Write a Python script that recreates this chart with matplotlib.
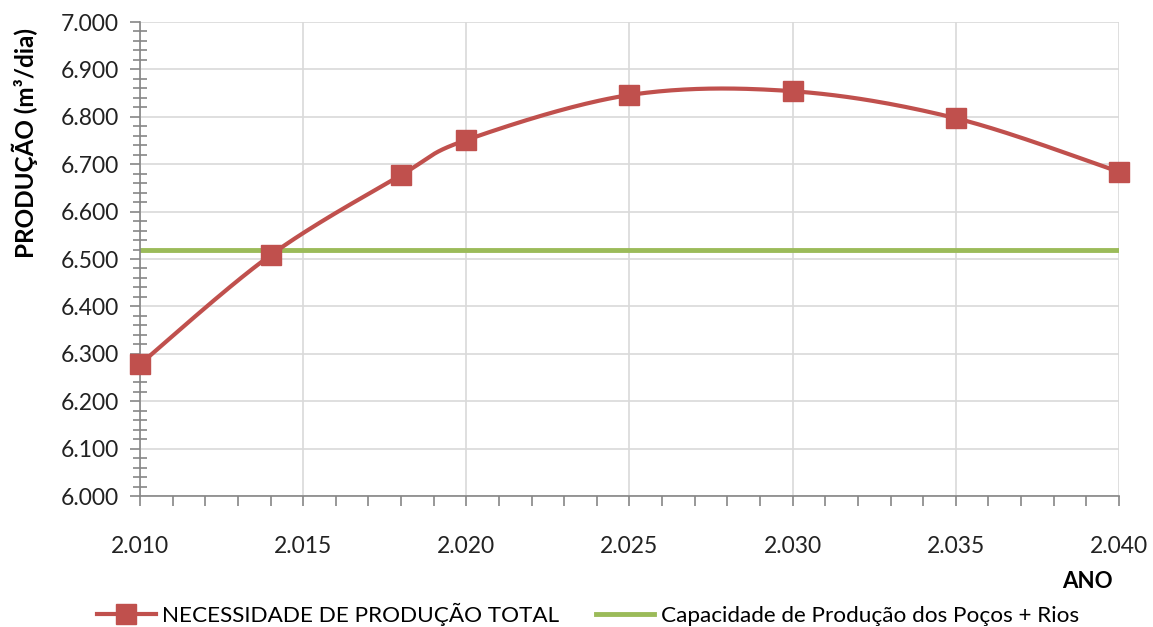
import matplotlib.pyplot as plt
from matplotlib.ticker import MultipleLocator, FuncFormatter
import numpy as np

plt.rcParams['font.family'] = ['Lato', 'DejaVu Sans']

# Dados
anos = [2010, 2014, 2018, 2020, 2025, 2030, 2035, 2040]
necessidade = [6278, 6508, 6677, 6751, 6846, 6854, 6797, 6684]
capacidade = 6519
serie_nec = 'NECESSIDADE DE PRODUÇÃO TOTAL'
serie_cap = 'Capacidade de Produção dos Poços + Rios'

red = '#C0504D'
green = '#9BBB59'


# Linha suavizada estilo Excel (Bezier / Catmull-Rom)
def suavizar(x, y, n=40):
    x = np.asarray(x, float)
    y = np.asarray(y, float)
    px = np.concatenate([[x[0]], x, [x[-1]]])
    py = np.concatenate([[y[0]], y, [y[-1]]])
    xs, ys = [], []
    t = np.linspace(0, 1, n)
    for i in range(1, len(px) - 2):
        p0 = np.array([px[i], py[i]])
        p3 = np.array([px[i + 1], py[i + 1]])
        p1 = p0 + (np.array([px[i + 1], py[i + 1]]) - np.array([px[i - 1], py[i - 1]])) / 6
        p2 = p3 - (np.array([px[i + 2], py[i + 2]]) - np.array([px[i], py[i]])) / 6
        b = ((1 - t) ** 3)[:, None] * p0 + (3 * (1 - t) ** 2 * t)[:, None] * p1 \
            + (3 * (1 - t) * t ** 2)[:, None] * p2 + (t ** 3)[:, None] * p3
        xs.extend(b[:, 0])
        ys.extend(b[:, 1])
    return xs, ys


fig = plt.figure(figsize=(11.53, 6.27), dpi=100)
ax = fig.add_axes([0.1214, 0.2089, 0.8491, 0.7560])

sx, sy = suavizar(anos, necessidade)
ax.plot(sx, sy, color=red, lw=3, zorder=3, clip_on=False)
ax.plot(anos, necessidade, ls='none', marker='s', ms=14, color=red, zorder=4, clip_on=False)
ax.plot([anos[0], anos[-1]], [capacidade, capacidade], color=green, lw=3.5, zorder=2)

ax.set_xlim(2010, 2040)
ax.set_ylim(6000, 7000)
ax.xaxis.set_major_locator(MultipleLocator(5))
ax.xaxis.set_minor_locator(MultipleLocator(1))
ax.yaxis.set_major_locator(MultipleLocator(100))
ax.yaxis.set_minor_locator(MultipleLocator(20))

fmt = FuncFormatter(lambda v, p: '{:,.0f}'.format(v).replace(',', '.'))
ax.xaxis.set_major_formatter(fmt)
ax.yaxis.set_major_formatter(fmt)

ax.grid(True, which='major', color='#D9D9D9', lw=1.2, zorder=0)
for s in ['top', 'right']:
    ax.spines[s].set_visible(False)
for s in ['left', 'bottom']:
    ax.spines[s].set_color('#868686')
    ax.spines[s].set_linewidth(1.2)

ax.tick_params(axis='y', which='major', direction='out', length=7, color='#868686', width=1.2,
               labelsize=16.5, pad=8, labelcolor='#222222')
ax.tick_params(axis='y', which='minor', direction='inout', length=10, color='#868686', width=1.2)
ax.tick_params(axis='x', which='both', direction='out', length=7, color='#868686', width=1.2,
               labelsize=16.5, pad=22, labelcolor='#222222')

ax.set_ylabel('PRODUÇÃO (m³/dia)', fontsize=17.5, fontweight='bold')
ax.yaxis.set_label_coords(-0.104, 0.745)
fig.text(0.965, 0.072, 'ANO', fontsize=16, fontweight='bold', ha='right', va='center')

h_nec = plt.Line2D([], [], color=red, lw=3, marker='s', ms=14)
h_cap = plt.Line2D([], [], color=green, lw=3.5)
leg = fig.legend([h_nec, h_cap], [serie_nec, serie_cap], loc='center',
                 bbox_to_anchor=(0.51, 0.02), ncol=2, frameon=False, fontsize=16.2,
                 handlelength=2.6, columnspacing=1.6, handletextpad=0.3)

fig.savefig('out.png', dpi=100)
